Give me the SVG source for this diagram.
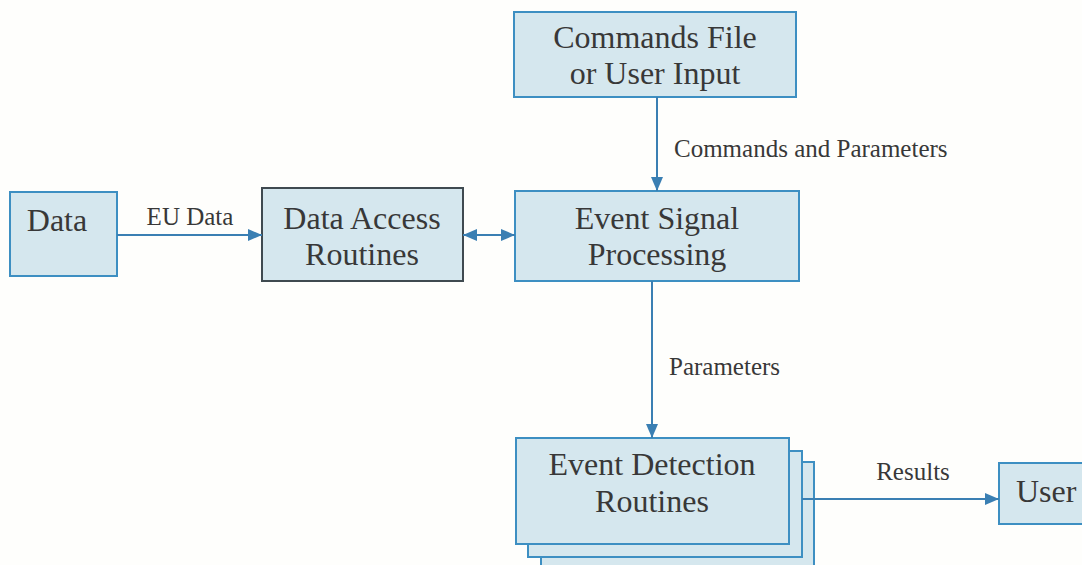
<svg xmlns="http://www.w3.org/2000/svg" width="1082" height="565" viewBox="0 0 1082 565">
<defs>
<style>
.box{fill:#d5e7ee;stroke:#3d8fc2;stroke-width:2}
.dbox{fill:#d5e7ee;stroke:#3f4a50;stroke-width:2}
.t{font-family:"Liberation Serif","Times New Roman",serif;font-size:32px;fill:#383838;text-anchor:middle}
.l{font-family:"Liberation Serif","Times New Roman",serif;font-size:25px;fill:#383838}
.c{stroke:#3a7fb3;stroke-width:2;fill:none}
</style>
<marker id="ah" viewBox="0 0 14 12" refX="14" refY="6" markerWidth="14" markerHeight="12" markerUnits="userSpaceOnUse" orient="auto-start-reverse">
<path d="M0,0 L14,6 L0,12 Z" fill="#3a7fb3"/>
</marker>
</defs>
<rect width="1082" height="565" fill="#fefefc"/>
<g id="data">
<rect class="box" x="10" y="192" width="107" height="84"/>
<text class="t" x="57" y="231">Data</text>
</g>
<g id="dar">
<rect class="dbox" x="262" y="188" width="201" height="93"/>
<text class="t" x="362" y="229">Data Access</text>
<text class="t" x="362" y="265">Routines</text>
</g>
<g id="cmd">
<rect class="box" x="514" y="12" width="282" height="85"/>
<text class="t" x="655" y="48">Commands File</text>
<text class="t" x="655" y="84">or User Input</text>
</g>
<g id="esp">
<rect class="box" x="515" y="191" width="284" height="90"/>
<text class="t" x="657" y="229">Event Signal</text>
<text class="t" x="657" y="265">Processing</text>
</g>
<g id="edr">
<rect class="box" x="541" y="462" width="273" height="110"/>
<rect class="box" x="528" y="451" width="274" height="106"/>
<rect class="box" x="516" y="438" width="273" height="106"/>
<text class="t" x="652" y="475">Event Detection</text>
<text class="t" x="652" y="512">Routines</text>
</g>
<g id="user">
<rect class="box" x="999" y="463" width="100" height="61"/>
<text class="t" x="1016" y="502" style="text-anchor:start">User</text>
</g>
<g id="connectors">
<line class="c" x1="117" y1="235" x2="262" y2="235" marker-end="url(#ah)"/>
<line class="c" x1="463" y1="235" x2="515" y2="235" marker-start="url(#ah)" marker-end="url(#ah)"/>
<line class="c" x1="657" y1="97" x2="657" y2="191" marker-end="url(#ah)"/>
<line class="c" x1="652" y1="281" x2="652" y2="438" marker-end="url(#ah)"/>
<line class="c" x1="802" y1="499" x2="999" y2="499" marker-end="url(#ah)"/>
<text class="l" x="190" y="225" style="text-anchor:middle">EU Data</text>
<text class="l" x="674" y="157">Commands and Parameters</text>
<text class="l" x="669" y="375">Parameters</text>
<text class="l" x="913" y="480" style="text-anchor:middle">Results</text>
</g>
</svg>
